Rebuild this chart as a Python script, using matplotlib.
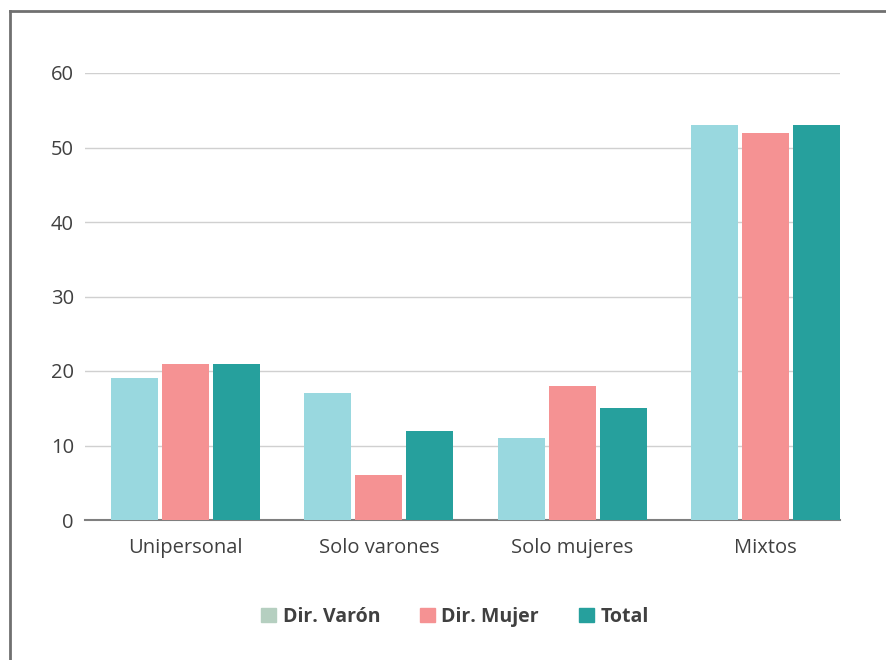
import matplotlib.pyplot as plt
from matplotlib.patches import Patch
import numpy as np

categories = ["Unipersonal", "Solo varones", "Solo mujeres", "Mixtos"]
dir_varon = [19, 17, 11, 53]
dir_mujer = [21, 6, 18, 52]
total = [21, 12, 15, 53]
series_names = ["Dir. Varón", "Dir. Mujer", "Total"]
bar_colors = ["#99d8df", "#f59293", "#26a09d"]
legend_colors = ["#b5cfc0", "#f59293", "#26a09d"]
y_ticks = [0, 10, 20, 30, 40, 50, 60]

plt.rcParams["font.family"] = ["Open Sans", "DejaVu Sans"]

fig = plt.figure(figsize=(8.86, 6.60), dpi=100)
ax = fig.add_axes([85 / 886, 1 - 520 / 660, 755 / 886, 447 / 660])

x = np.arange(len(categories))
w = 0.243
step = 0.264
for i, (vals, c) in enumerate(zip([dir_varon, dir_mujer, total], bar_colors)):
    ax.bar(x + (i - 1) * step, vals, width=w, color=c, zorder=3)

ax.set_xlim(-0.52, 3.385)
ax.set_ylim(0, 60)
ax.set_yticks(y_ticks)
ax.set_xticks(x)
ax.set_xticklabels(categories)
ax.grid(axis="y", color="#d0d0d0", linewidth=1, zorder=0)
for s in ["top", "right", "left"]:
    ax.spines[s].set_visible(False)
ax.spines["bottom"].set_color("#7f7f7f")
ax.spines["bottom"].set_linewidth(1.5)
ax.tick_params(axis="both", length=0, labelsize=14.5, colors="#404040")
ax.tick_params(axis="y", pad=8)
ax.tick_params(axis="x", pad=13)

handles = [Patch(color=c) for c in legend_colors]
fig.legend(handles, series_names, loc="center", bbox_to_anchor=(455 / 886, 1 - 617 / 660),
           ncol=3, frameon=False, handlelength=0.75, handleheight=0.75, handletextpad=0.35,
           columnspacing=2.05, prop={"weight": "bold", "size": 14})
for t in fig.legends[0].get_texts():
    t.set_color("#404040")

# outer frame (top and left visible)
fig.add_artist(plt.Line2D([9.5 / 886, 1], [1 - 11 / 660, 1 - 11 / 660], color="#707070", lw=2, transform=fig.transFigure))
fig.add_artist(plt.Line2D([9.5 / 886, 9.5 / 886], [0, 1 - 11 / 660], color="#707070", lw=2, transform=fig.transFigure))

fig.savefig("out.png", dpi=100)
